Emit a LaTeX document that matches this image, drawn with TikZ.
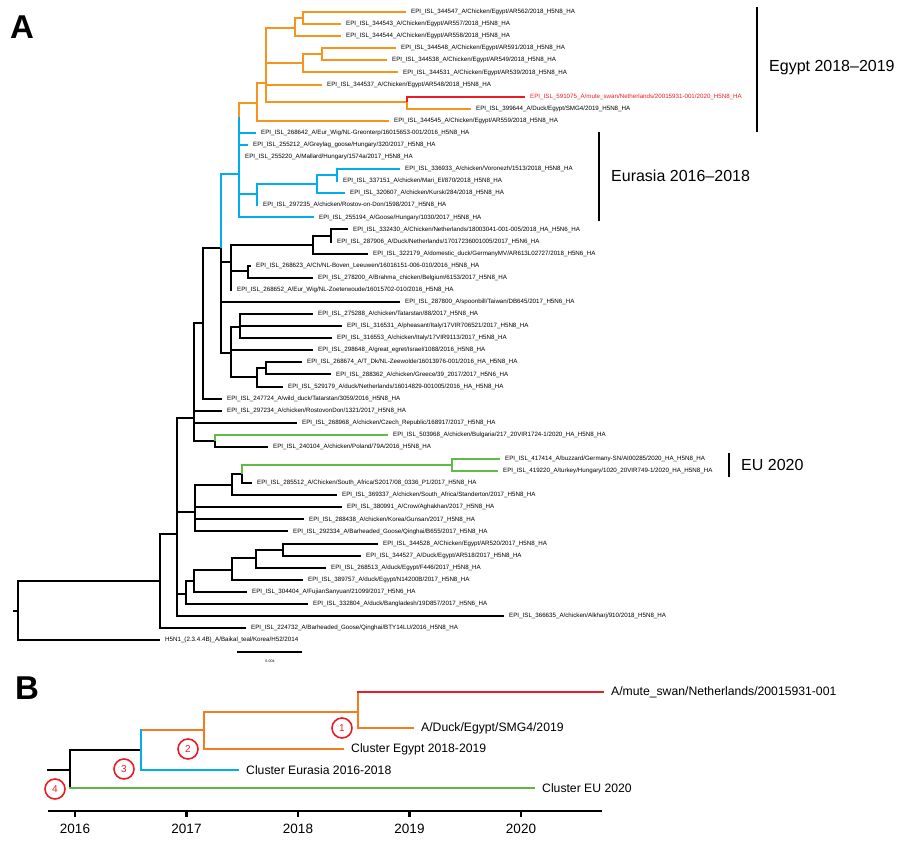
\documentclass[tikz,border=0pt]{standalone}
\usepackage{fontspec}
\setmainfont{Liberation Sans}
\usetikzlibrary{positioning}
\definecolor{egy}{HTML}{F7941D}
\definecolor{eura}{HTML}{00AEEF}
\definecolor{eu}{HTML}{62BB46}
\definecolor{swan}{HTML}{ED1C24}
\definecolor{egyB}{HTML}{F47B20}
\definecolor{euB}{HTML}{5DB546}
\newcommand{\epi}{EPI\_ISL\_}

\begin{document}
\begin{tikzpicture}[
    x=1pt, y=-1pt,
    br/.style={line width=2pt},
    brB/.style={line width=2.8pt,line cap=rect},
    leaf/.style={anchor=west,inner xsep=5pt,inner ysep=0.5pt,font=\fontsize{6.2}{7}\selectfont},
    clade/.style={anchor=west,inner sep=0pt,font=\fontsize{16}{18}\selectfont},
    bar/.style={line width=2.2pt},
    lblB/.style={anchor=west,inner xsep=8pt,font=\fontsize{12.2}{14}\selectfont},
    circB/.style={circle,draw=swan,line width=1.6pt,text=swan,minimum size=20pt,inner sep=0pt,font=\fontsize{10}{10}\selectfont},
    panel/.style={font=\fontsize{33}{33}\selectfont\bfseries}
    ]
    \useasboundingbox (0,0) rectangle (900,852);

    % panel A: leaves
    \node[leaf] (s1) at (406,12.0) {\epi 344547\_A/Chicken/Egypt/AR562/2018\_H5N8\_HA};
    \node[leaf] (s2) at (341,24.1) {\epi 344543\_A/Chicken/Egypt/AR557/2018\_H5N8\_HA};
    \node[leaf] (s3) at (341,36.2) {\epi 344544\_A/Chicken/Egypt/AR558/2018\_H5N8\_HA};
    \node[leaf] (s4) at (396,48.2) {\epi 344548\_A/Chicken/Egypt/AR591/2018\_H5N8\_HA};
    \node[leaf] (s5) at (387,60.3) {\epi 344538\_A/Chicken/Egypt/AR549/2018\_H5N8\_HA};
    \node[leaf] (s6) at (398,72.4) {\epi 344531\_A/Chicken/Egypt/AR539/2018\_H5N8\_HA};
    \node[leaf] (s7) at (322,84.5) {\epi 344537\_A/Chicken/Egypt/AR548/2018\_H5N8\_HA};
    \node[leaf,text=swan] (s8) at (525,96.6) {\epi 591075\_A/mute\_swan/Netherlands/20015931-001/2020\_H5N8\_HA};
    \node[leaf] (s9) at (471,108.6) {\epi 399644\_A/Duck/Egypt/SMG4/2019\_H5N8\_HA};
    \node[leaf] (s10) at (389,120.7) {\epi 344545\_A/Chicken/Egypt/AR559/2018\_H5N8\_HA};
    \node[leaf] (s11) at (256,132.8) {\epi 268642\_A/Eur\_Wig/NL-Greonterp/16015653-001/2016\_H5N8\_HA};
    \node[leaf] (s12) at (248,144.9) {\epi 255212\_A/Greylag\_goose/Hungary/320/2017\_H5N8\_HA};
    \node[leaf] (s13) at (240,157.0) {\epi 255220\_A/Mallard/Hungary/1574a/2017\_H5N8\_HA};
    \node[leaf] (s14) at (400,169.0) {\epi 336933\_A/chicken/Voronezh/1513/2018\_H5N8\_HA};
    \node[leaf] (s15) at (338,181.1) {\epi 337151\_A/chicken/Mari\_El/870/2018\_H5N8\_HA};
    \node[leaf] (s16) at (345,193.2) {\epi 320607\_A/chicken/Kursk/284/2018\_H5N8\_HA};
    \node[leaf] (s17) at (258,205.3) {\epi 297235\_A/chicken/Rostov-on-Don/1598/2017\_H5N8\_HA};
    \node[leaf] (s18) at (314,217.4) {\epi 255194\_A/Goose/Hungary/1030/2017\_H5N8\_HA};
    \node[leaf] (s19) at (348,229.4) {\epi 332430\_A/Chicken/Netherlands/18003041-001-005/2018\_HA\_H5N6\_HA};
    \node[leaf] (s20) at (332,241.5) {\epi 287906\_A/Duck/Netherlands/17017236001005/2017\_H5N6\_HA};
    \node[leaf] (s21) at (368,253.6) {\epi 322179\_A/domestic\_duck/GermanyMV/AR613L02727/2018\_H5N6\_HA};
    \node[leaf] (s22) at (251,265.7) {\epi 268623\_A/Ch/NL-Boven\_Leeuwen/16016151-006-010/2016\_H5N8\_HA};
    \node[leaf] (s23) at (313,277.8) {\epi 278200\_A/Brahma\_chicken/Belgium/6153/2017\_H5N8\_HA};
    \node[leaf] (s24) at (232,289.8) {\epi 268652\_A/Eur\_Wig/NL-Zoeterwoude/16015702-010/2016\_H5N8\_HA};
    \node[leaf] (s25) at (400,301.9) {\epi 287800\_A/spoonbill/Taiwan/DB645/2017\_H5N6\_HA};
    \node[leaf] (s26) at (313,314.0) {\epi 275288\_A/chicken/Tatarstan/88/2017\_H5N8\_HA};
    \node[leaf] (s27) at (342,326.1) {\epi 316531\_A/pheasant/Italy/17VIR706521/2017\_H5N8\_HA};
    \node[leaf] (s28) at (332,338.2) {\epi 316553\_A/chicken/Italy/17VIR9113/2017\_H5N8\_HA};
    \node[leaf] (s29) at (313,350.2) {\epi 298648\_A/great\_egret/Israel/1088/2016\_H5N8\_HA};
    \node[leaf] (s30) at (302,362.3) {\epi 268674\_A/T\_Dk/NL-Zeewolde/16013976-001/2016\_HA\_H5N8\_HA};
    \node[leaf] (s31) at (331,374.4) {\epi 288362\_A/chicken/Greece/39\_2017/2017\_H5N6\_HA};
    \node[leaf] (s32) at (283,386.5) {\epi 529179\_A/duck/Netherlands/16014829-001005/2016\_HA\_H5N8\_HA};
    \node[leaf] (s33) at (222,398.6) {\epi 247724\_A/wild\_duck/Tatarstan/3059/2016\_H5N8\_HA};
    \node[leaf] (s34) at (222,410.6) {\epi 297234\_A/chicken/RostovonDon/1321/2017\_H5N8\_HA};
    \node[leaf] (s35) at (297,422.7) {\epi 268968\_A/chicken/Czech\_Republic/168917/2017\_H5N8\_HA};
    \node[leaf] (s36) at (388,434.8) {\epi 503968\_A/chicken/Bulgaria/217\_20VIR1724-1/2020\_HA\_H5N8\_HA};
    \node[leaf] (s37) at (268,446.9) {\epi 240104\_A/chicken/Poland/79A/2016\_H5N8\_HA};
    \node[leaf] (s38) at (500,459.0) {\epi 417414\_A/buzzard/Germany-SN/AI00285/2020\_HA\_H5N8\_HA};
    \node[leaf] (s39) at (498,471.0) {\epi 419220\_A/turkey/Hungary/1020\_20VIR749-1/2020\_HA\_H5N8\_HA};
    \node[leaf] (s40) at (252,483.1) {\epi 285512\_A/Chicken/South\_Africa/S2017/08\_0336\_P1/2017\_H5N8\_HA};
    \node[leaf] (s41) at (337,495.2) {\epi 369337\_A/chicken/South\_Africa/Standerton/2017\_H5N8\_HA};
    \node[leaf] (s42) at (342,507.3) {\epi 380991\_A/Crow/Aghakhan/2017\_H5N8\_HA};
    \node[leaf] (s43) at (304,519.4) {\epi 288438\_A/chicken/Korea/Gunsan/2017\_H5N8\_HA};
    \node[leaf] (s44) at (288,531.4) {\epi 292334\_A/Barheaded\_Goose/Qinghai/B655/2017\_H5N8\_HA};
    \node[leaf] (s45) at (378,543.5) {\epi 344528\_A/Chicken/Egypt/AR520/2017\_H5N8\_HA};
    \node[leaf] (s46) at (361,555.6) {\epi 344527\_A/Duck/Egypt/AR518/2017\_H5N8\_HA};
    \node[leaf] (s47) at (326,567.7) {\epi 268513\_A/duck/Egypt/F446/2017\_H5N8\_HA};
    \node[leaf] (s48) at (303,579.8) {\epi 389757\_A/duck/Egypt/N14200B/2017\_H5N8\_HA};
    \node[leaf] (s49) at (247,591.8) {\epi 304404\_A/FujianSanyuan/21099/2017\_H5N6\_HA};
    \node[leaf] (s50) at (308,603.9) {\epi 332804\_A/duck/Bangladesh/19D857/2017\_H5N6\_HA};
    \node[leaf] (s51) at (504,616.0) {\epi 366635\_A/chicken/Alkharj/910/2018\_H5N8\_HA};
    \node[leaf] (s52) at (246,628.1) {\epi 224732\_A/Barheaded\_Goose/Qinghai/BTY14LU/2016\_H5N8\_HA};
    \node[leaf] (s53) at (160,640.2) {H5N1\_(2.3.4.4B)\_A/Baikal\_teal/Korea/H52/2014};

    % panel A: internal nodes
    \coordinate (eg12) at (303,18);
    \coordinate (eg123) at (295,28);
    \coordinate (eg45) at (322,54);
    \coordinate (eg456) at (303,63);
    \coordinate (egd) at (266,83);
    \coordinate (egsw) at (407,102);
    \coordinate (egc) at (257,103);
    \coordinate (ea1) at (239,117);
    \coordinate (ea) at (239,174);
    \coordinate (ea14) at (337,175);
    \coordinate (ea16) at (317,184);
    \coordinate (ea17) at (257,194);
    \coordinate (nl19) at (331,235.5);
    \coordinate (nl21) at (313,245);
    \coordinate (nl22) at (248,271);
    \coordinate (nl24) at (231,262);
    \coordinate (bk1) at (221,248);
    \coordinate (it26) at (240,327);
    \coordinate (zw30) at (266,368);
    \coordinate (zw32) at (257,377);
    \coordinate (bk2) at (231,353);
    \coordinate (bk3) at (203,323);
    \coordinate (bk4) at (194,418);
    \coordinate (bg36) at (215,441);
    \coordinate (eu38) at (452,465);
    \coordinate (eu40) at (242,474);
    \coordinate (sa41) at (232,485);
    \coordinate (bk5) at (195,512);
    \coordinate (eg45b) at (283,549.5);
    \coordinate (eg47) at (256,558);
    \coordinate (eg48) at (232,570);
    \coordinate (eg49) at (194,581);
    \coordinate (bk6) at (186,594);
    \coordinate (bk7) at (177,534);
    \coordinate (bk8) at (160,581);
    \coordinate (root) at (18,611);
    \coordinate (stem) at (13,611);

    % panel A: branches
    \draw[br] (stem) -- (root);
    \foreach \p/\c in {nl19/s19,nl19/s20,nl21/nl19,nl21/s21,nl22/s22,nl22/s23,nl24/nl21,nl24/nl22,nl24/s24,
        bk1/nl24,bk1/s25,bk1/bk2,it26/s26,it26/s27,it26/s28,zw30/s30,zw30/s31,zw32/zw30,zw32/s32,
        bk2/it26,bk2/s29,bk2/zw32,bk3/bk1,bk3/s33,bk4/bk3,bk4/s34,bk4/s35,bk4/bg36,bg36/s37,
        eu40/s40,sa41/eu40,sa41/s41,bk5/sa41,bk5/s42,bk5/s43,bk5/s44,eg45b/s45,eg45b/s46,
        eg47/eg45b,eg47/s47,eg48/eg47,eg48/s48,eg49/eg48,eg49/s49,bk6/eg49,bk6/s50,
        bk7/bk4,bk7/bk5,bk7/bk6,bk7/s51,bk8/bk7,bk8/s52,root/bk8,root/s53}
      \draw[br] (\p) |- (\c);
    \foreach \p/\c in {eg12/s1,eg12/s2,eg123/eg12,eg123/s3,eg45/s4,eg45/s5,eg456/eg45,eg456/s6,
        egd/eg123,egd/eg456,egd/s7,egd/egsw,egsw/s9,egc/egd,egc/s10,ea1/egc}
      \draw[br,egy] (\p) |- (\c);
    \draw[br,swan] (egsw) |- (s8);
    \foreach \p/\c in {ea1/s11,ea/ea1,ea/s12,ea/s13,ea14/s14,ea14/s15,ea16/ea14,ea16/s16,
        ea17/ea16,ea17/s17,ea/ea17,ea/s18,bk1/ea}
      \draw[br,eura] (\p) |- (\c);
    \foreach \p/\c in {bg36/s36,eu38/s38,eu38/s39,eu40/eu38}
      \draw[br,eu] (\p) |- (\c);

    % clade marks
    \draw[bar] (757,7) -- (757,132);
    \node[clade] (egyLbl) at (769,68) {Egypt 2018--2019};
    \draw[bar] (599,132) -- (599,221);
    \node[clade] (euraLbl) at (611,176) {Eurasia 2016--2018};
    \draw[bar] (729,453) -- (729,477);
    \node[clade] (euLbl) at (741,465) {EU 2020};

    % scale bar
    \draw[line width=1.2pt] (237,652) -- (302,652);
    \node[font=\fontsize{3.6}{4}\selectfont] (scl) at (270,661) {0.004};

    \node[panel] (pA) at (22,27) {A};
    \node[panel] (pB) at (27,688) {B};

    % panel B
    \coordinate (t0) at (48,770);
    \coordinate (b4) at (70,770);
    \coordinate (b3) at (141,750);
    \coordinate (b2) at (204,730);
    \coordinate (b1) at (358,712);
    \node[lblB] (swanB) at (603,692) {A/mute\_swan/Netherlands/20015931-001};
    \node[lblB] (duckB) at (413,728) {A/Duck/Egypt/SMG4/2019};
    \node[lblB] (clEgy) at (343,749) {Cluster Egypt 2018-2019};
    \node[lblB] (clEura) at (238,770) {Cluster Eurasia 2016-2018};
    \node[lblB] (clEU) at (534,788) {Cluster EU 2020};

    \draw[brB] (t0) -- (b4);
    \draw[brB] (b4) |- (b3);
    \draw[brB] (b4) -- (b4 |- clEU);
    \draw[brB,euB] (b4 |- clEU) -- (clEU);
    \draw[brB,egyB] (b3 |- b2) -- (b2);
    \draw[brB,eura] (b3 |- b2) |- (clEura);
    \draw[brB,egyB] (b2) |- (b1);
    \draw[brB,egyB] (b2) |- (clEgy);
    \draw[brB,egyB] (b1) |- (duckB);
    \draw[brB,egyB] (b1) -- (b1 |- swanB);
    \draw[brB,swan] (b1 |- swanB) -- (swanB);

    \node[circB] (k1) at (342,728) {1};
    \node[circB] (k2) at (188,749) {2};
    \node[circB] (k3) at (124,769) {3};
    \node[circB] (k4) at (55,789) {4};

    % time axis
    \draw[line width=2.6pt] (48,811) -- (602,811);
    \foreach \yr/\xx in {2016/75,2017/186.5,2018/298,2019/409.5,2020/521} {
      \draw[line width=2.2pt] (\xx,811) -- (\xx,817);
      \node[font=\fontsize{13.5}{15}\selectfont] (y\yr) at (\xx,829) {\yr};
    }
  \end{tikzpicture}
\end{document}
